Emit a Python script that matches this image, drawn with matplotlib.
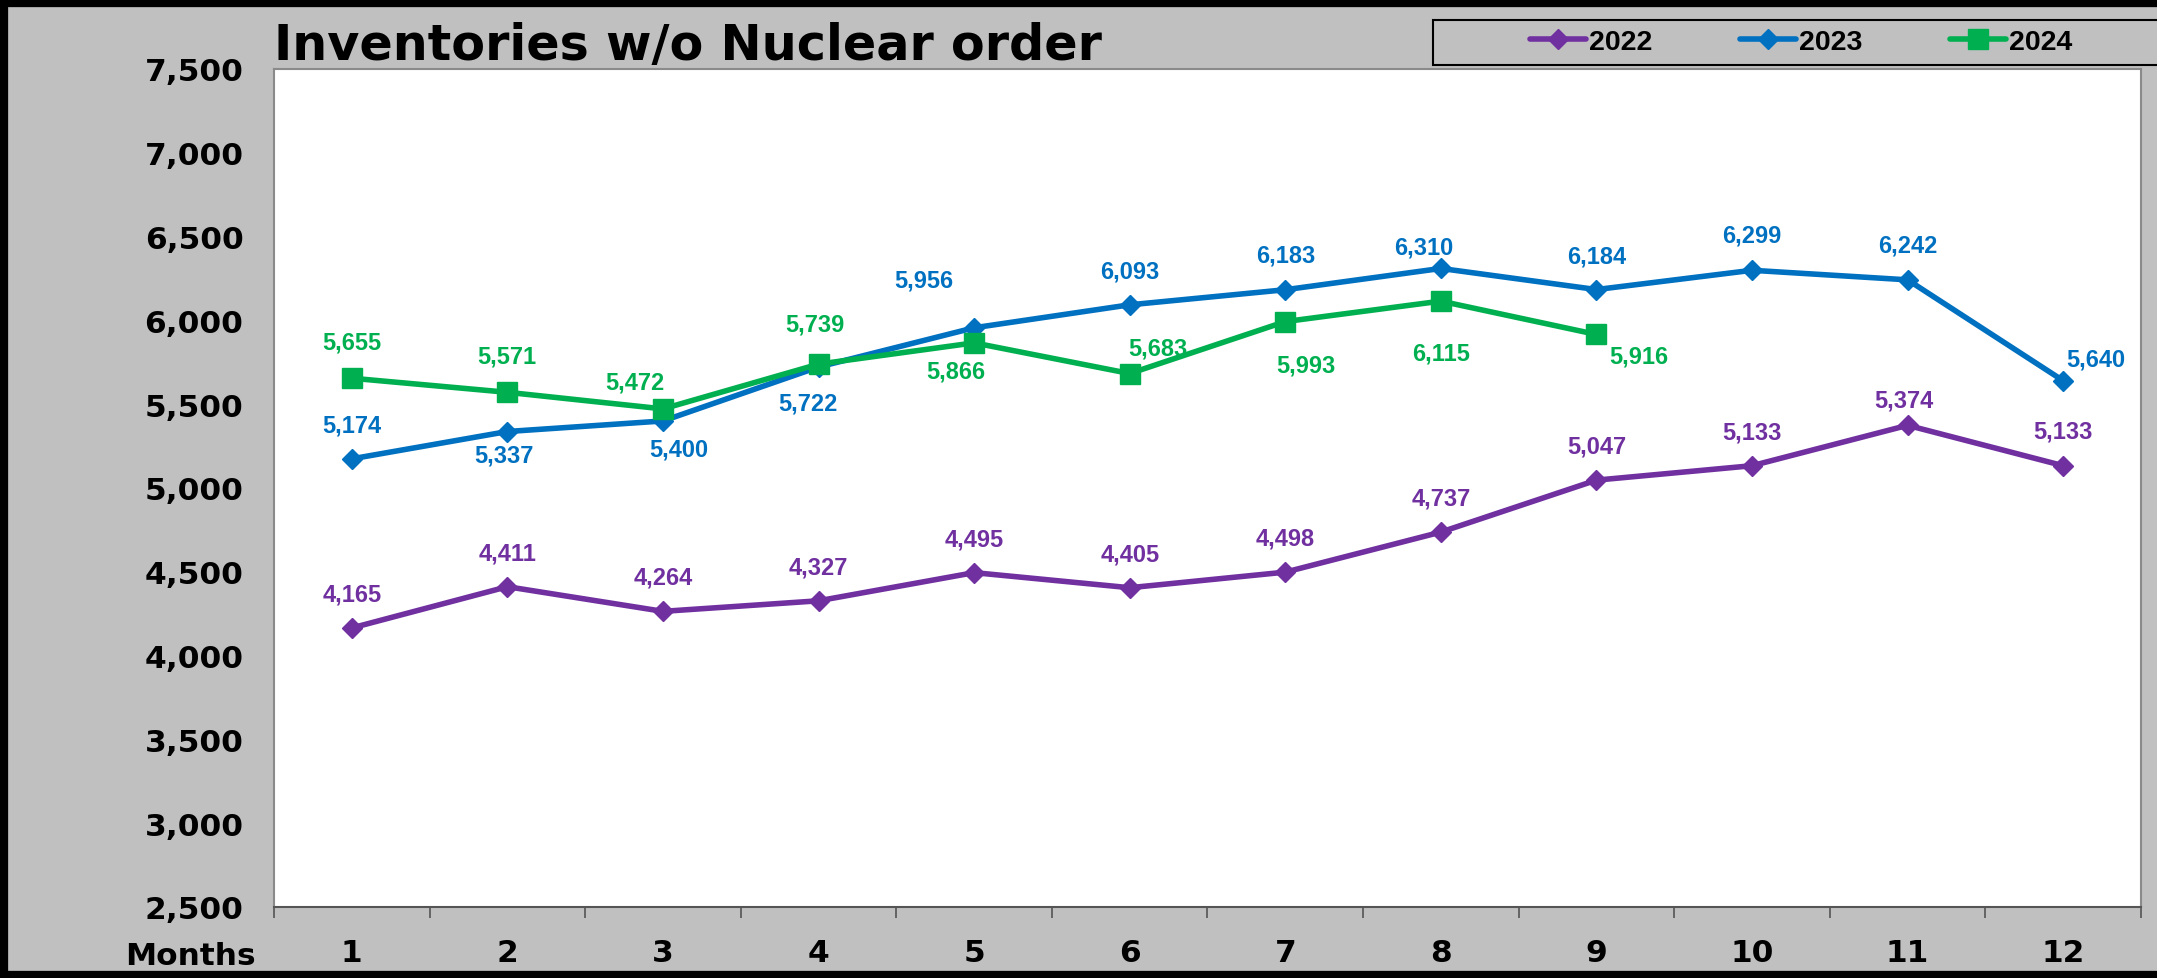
import matplotlib

matplotlib.use("Agg")
import matplotlib.pyplot as plt
from matplotlib.patches import Rectangle
from matplotlib.ticker import FuncFormatter, MultipleLocator

# Monthly inventories (w/o nuclear order)
months = list(range(1, 13))
inv_2022 = [4165, 4411, 4264, 4327, 4495, 4405, 4498, 4737, 5047, 5133, 5374, 5133]
inv_2023 = [5174, 5337, 5400, 5722, 5956, 6093, 6183, 6310, 6184, 6299, 6242, 5640]
inv_2024 = [5655, 5571, 5472, 5739, 5866, 5683, 5993, 6115, 5916]
month_ticks = [str(m) for m in months]

# label nudges in pixels (dx right, dy up) so values don't collide
off_2022 = [(0, 34)] * 10 + [(-4, 25), (0, 35)]
off_2023 = [(0, 34), (-3, -23), (16, -28), (-11, -36), (-50, 48), (0, 34),
            (0, 35), (-17, 21), (0, 34), (0, 35), (0, 35), (33, 22)]
off_2024 = [(0, 36), (-1, 36), (-28, 27), (-4, 40), (-18, -28), (28, 26),
            (21, -43), (0, -52), (42, -22)]

DPI = 100
W, H = 2157, 979
BG = "#C0C0C0"
series = [
    ("2022", inv_2022, off_2022, "#7030A0", "D", 10.5),
    ("2023", inv_2023, off_2023, "#0070C0", "D", 10.5),
    ("2024", inv_2024, off_2024, "#00B050", "s", 14.5),
]

fig = plt.figure(figsize=(W / DPI, H / DPI), dpi=DPI, facecolor=BG)
ax = fig.add_axes([274 / W, 1 - 908 / H, (2141 - 274) / W, (908 - 70) / H])
ax.set_facecolor("white")

handles = []
for name, vals, offs, color, marker, ms in series:
    xs = months[: len(vals)]
    (ln,) = ax.plot(xs, vals, color=color, lw=4, marker=marker, ms=ms,
                    solid_capstyle="round", label=name, zorder=3)
    handles.append(ln)
    for x, v, (dx, dy) in zip(xs, vals, offs):
        ax.annotate(f"{v:,}", (x, v), xytext=(dx * 72 / DPI, dy * 72 / DPI),
                    textcoords="offset points", ha="center", va="center",
                    color=color, fontsize=17, fontweight="bold",
                    family="Liberation Sans", zorder=4)

ax.set_xlim(0.5, 12.5)
ax.set_ylim(2500, 7500)
ax.yaxis.set_major_locator(MultipleLocator(500))
ax.yaxis.set_major_formatter(FuncFormatter(lambda v, _: f"{v:,.0f}"))
ax.set_xticks(months)
ax.set_xticklabels(month_ticks)
ax.set_xticks([m + 0.5 for m in range(0, 13)], minor=True)
ax.tick_params(axis="x", which="major", length=0, pad=22)
ax.tick_params(axis="x", which="minor", length=8, width=1.2, color="#555555")
ax.tick_params(axis="y", length=0, pad=22)
for lbl in ax.get_xticklabels() + ax.get_yticklabels():
    lbl.set_fontsize(22.5)
    lbl.set_fontweight("bold")
    lbl.set_family("DejaVu Sans")
for sp in ax.spines.values():
    sp.set_color("#8a8a8a")
    sp.set_linewidth(1.5)
ax.spines["bottom"].set_color("#555555")

fig.text(274 / W, 1 - 60 / H, "Inventories w/o Nuclear order", fontsize=35.5,
         fontweight="bold", family="DejaVu Sans", va="baseline", ha="left")
fig.text(256 / W, 1 - 965 / H, "Months", fontsize=22.5, fontweight="bold",
         family="DejaVu Sans", va="baseline", ha="right")

# legend box (runs off the right edge like the original)
fig.add_artist(Rectangle((1433 / W, 1 - 66 / H), 800 / W, 45 / H,
                         transform=fig.transFigure, facecolor=BG,
                         edgecolor="black", lw=1.5))
leg = fig.legend(handles=handles, loc="center", ncol=3,
                 bbox_to_anchor=(1801 / W, 1 - 43 / H), frameon=False,
                 prop={"family": "Liberation Sans", "weight": "bold", "size": 20.5},
                 handlelength=1.95, handletextpad=0.1, columnspacing=3.1,
                 borderpad=0.2)

# heavy black outer frame (right side is cropped off in the original)
fig.add_artist(Rectangle((0, 0), 1.2, 1, transform=fig.transFigure,
                         fill=False, edgecolor="black", lw=11, clip_on=False))

fig.savefig("out.png", dpi=DPI, facecolor=BG)
